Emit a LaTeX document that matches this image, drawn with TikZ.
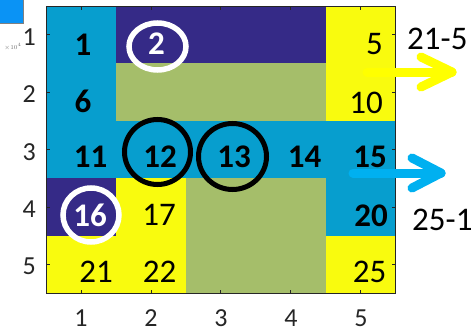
\documentclass[tikz,border=0pt]{standalone}
\usepackage{fontspec}
\setmainfont{Carlito}
\usetikzlibrary{shapes.geometric}
\definecolor{pcyan}{RGB}{7,158,206}
\definecolor{ppurple}{RGB}{53,42,135}
\definecolor{pgreen}{RGB}{165,190,106}
\definecolor{pyellow}{RGB}{249,251,14}
\definecolor{axgray}{RGB}{38,38,38}
\definecolor{arrblue}{RGB}{0,176,240}
\definecolor{arryellow}{RGB}{255,255,0}
\definecolor{iconblue}{RGB}{10,147,245}
\tikzset{
  numb/.style={inner sep=0pt, font=\fontsize{33}{36}\selectfont\bfseries, text=black},
  numr/.style={inner sep=0pt, font=\fontsize{33}{36}\selectfont, text=black},
  numw/.style={numb, text=white},
  tlab/.style={inner sep=0pt, font=\fontsize{26}{28}\selectfont, text=axgray},
  ring/.style={ellipse, draw=black, line width=5pt, inner sep=0pt},
  wring/.style={ring, draw=white, line width=5.5pt},
  bigarrow/.style={line width=9pt, line cap=round, line join=round},
  sidelab/.style={inner sep=0pt, anchor=west, font=\fontsize{33}{36}\selectfont, text=black},
}
\begin{document}
\begin{tikzpicture}[x=1pt,y=-1pt]
\useasboundingbox (0,0) rectangle (472,332);
% icon
\fill[iconblue, draw=black!50, line width=0.6pt] (-2,-2) rectangle (23,23);
\node[inner sep=0pt, text=black!55, font=\fontsize{6.5}{7}\selectfont] (mult) at (13,47) {$\times10^{4}$};
% cells
\def\xa{46}\def\xb{116}\def\xc{186}\def\xd{255.6}\def\xe{325.6}\def\xf{395.5}
\def\ya{6}\def\yb{63.4}\def\yc{120.8}\def\yd{178.2}\def\ye{235.6}\def\yf{293}
% row 1
\fill[pcyan] (\xa,\ya) rectangle (\xb,\yb);
\fill[ppurple] (\xb,\ya) rectangle (\xe,\yb);
\fill[pyellow] (\xe,\ya) rectangle (\xf,\yb);
% row 2
\fill[pcyan] (\xa,\yb) rectangle (\xb,\yc);
\fill[pgreen] (\xb,\yb) rectangle (\xe,\yc);
\fill[pyellow] (\xe,\yb) rectangle (\xf,\yc);
% row 3
\fill[pcyan] (\xa,\yc) rectangle (\xf,\yd);
% row 4
\fill[ppurple] (\xa,\yd) rectangle (\xb,\ye);
\fill[pyellow] (\xb,\yd) rectangle (\xc,\ye);
\fill[pgreen] (\xc,\yd) rectangle (\xe,\ye);
\fill[pcyan] (\xe,\yd) rectangle (\xf,\ye);
% row 5
\fill[pyellow] (\xa,\ye) rectangle (\xc,\yf);
\fill[pgreen] (\xc,\ye) rectangle (\xe,\yf);
\fill[pyellow] (\xe,\ye) rectangle (\xf,\yf);
% axes box and ticks
\draw[axgray, line width=1pt] (\xa,\ya) rectangle (\xf,\yf);
\foreach \r in {34.7,92.1,149.5,206.9,264.3}{
  \draw[axgray, line width=0.8pt] (\xa,\r) -- ++(3.5,0);
  \draw[axgray, line width=0.8pt] (\xf,\r) -- ++(-3.5,0);
}
\foreach \c in {81,151,220.8,290.6,360.5}{
  \draw[axgray, line width=0.8pt] (\c,\ya) -- ++(0,3.5);
  \draw[axgray, line width=0.8pt] (\c,\yf) -- ++(0,-3.5);
}
% tick labels
\node[tlab, anchor=east] (ly1) at (36,37) {1};
\node[tlab, anchor=east] (ly2) at (36,94) {2};
\node[tlab, anchor=east] (ly3) at (36,152) {3};
\node[tlab, anchor=east] (ly4) at (36,209) {4};
\node[tlab, anchor=east] (ly5) at (36,266) {5};
\node[tlab] (lx1) at (81,318) {1};
\node[tlab] (lx2) at (151,318) {2};
\node[tlab] (lx3) at (221,318) {3};
\node[tlab] (lx4) at (291,318) {4};
\node[tlab] (lx5) at (361,318) {5};
% numbers
\node[numb] (n1) at (83,45) {1};
\node[numw] (n2) at (156.5,44) {2};
\node[numr] (n5) at (374.5,44) {5};
\node[numb] (n6) at (83,101) {6};
\node[numr] (n10) at (366,102.5) {10};
\node[numb] (n11) at (90.5,156.5) {11};
\node[numb] (n12) at (160,156.5) {12};
\node[numb] (n13) at (234,156.5) {13};
\node[numb] (n14) at (304.5,156.5) {14};
\node[numb] (n15) at (370,156.5) {15};
\node[numw] (n16) at (90,215) {16};
\node[numr] (n17) at (159,215) {17};
\node[numb] (n20) at (371,216) {20};
\node[numr] (n21) at (96,272) {21};
\node[numr] (n22) at (159.5,272) {22};
\node[numr] (n25) at (369.5,272) {25};
% rings
\node[wring, minimum width=57pt, minimum height=47pt] (c2) at (157.5,46.5) {};
\node[ring, minimum width=66pt, minimum height=65pt] (c12) at (157.5,152) {};
\node[ring, minimum width=68pt, minimum height=66pt] (c13) at (232.5,156.5) {};
\node[wring, minimum width=56pt, minimum height=54pt] (c16) at (91,215) {};
% arrows
\coordinate (ya) at (367,72);
\coordinate (yb) at (452,72);
\coordinate (yc) at (421,57);
\coordinate (yd) at (421,87);
\draw[bigarrow, arryellow] (ya) -- (yb);
\draw[bigarrow, arryellow] (yc) -- (yb) -- (yd);
\coordinate (ba) at (353,173);
\coordinate (bb) at (441,173);
\coordinate (bc) at (412,158);
\coordinate (bd) at (412,188);
\draw[bigarrow, arrblue] (ba) -- (bb);
\draw[bigarrow, arrblue] (bc) -- (bb) -- (bd);
% side labels
\node[sidelab] (t1) at (407,39) {21-5};
\node[sidelab] (t2) at (412,220) {25-1};
\end{tikzpicture}
\end{document}
